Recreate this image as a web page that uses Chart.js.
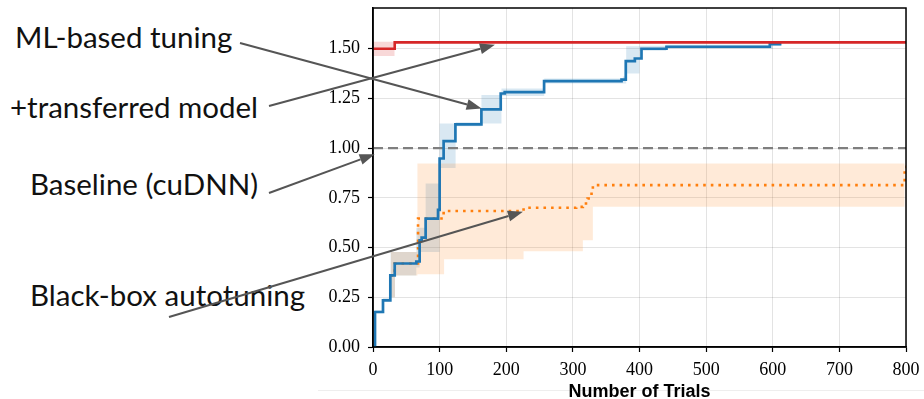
<!DOCTYPE html>
<html><head><meta charset="utf-8">
<script src="https://cdn.jsdelivr.net/npm/chart.js@4"></script>
<style>
html,body{margin:0;padding:0;background:#fff;}
#wrap{position:relative;width:924px;height:399px;overflow:hidden;background:#fff;}
#c{position:absolute;left:0;top:0;z-index:2;}
.ann{position:absolute;font-family:Lato,'Noto Sans',sans-serif;font-size:29.5px;line-height:29.5px;color:#111;white-space:nowrap;z-index:1;}
#hr{position:absolute;left:318px;top:390px;width:606px;height:1px;background:#eee;z-index:0;}
</style></head><body>
<div id="wrap">
<div id="hr"></div>
<div class="ann" style="left:15px;top:22px">ML-based tuning</div>
<div class="ann" style="left:10px;top:92px">+transferred model</div>
<div class="ann" style="left:30px;top:169px">Baseline (cuDNN)</div>
<div class="ann" style="left:30px;top:280px">Black-box autotuning</div>
<canvas id="c" width="924" height="399"></canvas>
</div>
<script>
// ---- data ----
const xTicks = [0, 100, 200, 300, 400, 500, 600, 700, 800];
const yTicks = [0, 0.25, 0.5, 0.75, 1.0, 1.25, 1.5];

const baselineX = [0, 800];
const baselineY = [1.0, 1.0];

const redX = [0, 32.6, 800];
const redY = [1.50, 1.532, 1.532];
const redBandX = [0, 32.6];
const redBandHi = [1.535, 1.535];
const redBandLo = [1.463, 1.463];

const blueX = [2, 3, 15, 26, 32.6, 65, 70, 73, 79, 97.6, 100, 106, 123.7, 162.7, 191.7, 197.7, 256.8, 373, 379.4, 393, 403, 440.5, 595.6, 613];
const blueY = [0, 0.176, 0.235, 0.36, 0.42, 0.43, 0.537, 0.55, 0.646, 0.69, 0.948, 1.035, 1.12, 1.195, 1.275, 1.282, 1.337, 1.345, 1.438, 1.451, 1.50, 1.51, 1.523, 1.523];
const blueBandX  = [3, 15, 26.5, 33, 65, 70, 79, 100, 124, 162.7, 192.8, 257, 375, 380, 400, 440, 600, 613];
const blueBandHi = [0.185, 0.245, 0.478, 0.478, 0.60, 0.60, 0.822, 1.124, 1.13, 1.267, 1.30, 1.35, 1.36, 1.513, 1.515, 1.52, 1.53, 1.53];
const blueBandLo = [0.17, 0.23, 0.25, 0.36, 0.40, 0.478, 0.478, 0.90, 1.11, 1.124, 1.262, 1.325, 1.325, 1.376, 1.49, 1.50, 1.515, 1.515];

const orangeX = [26.5, 32.6, 67.6, 106, 226, 305, 315, 322, 328, 330, 798, 800];
const orangeY = [0.36, 0.42, 0.646, 0.684, 0.70, 0.705, 0.722, 0.747, 0.789, 0.814, 0.906, 0.906];
const orangeBandX  = [26.5, 33, 66.7, 106.7, 226, 315, 330, 798];
const orangeBandHi = [0.478, 0.478, 0.923, 0.923, 0.923, 0.923, 0.923, 0.923];
const orangeBandLo = [0.25, 0.36, 0.366, 0.441, 0.482, 0.537, 0.705, 0.705];

// annotation arrows: start in page pixels (next to the labels), tip in data coordinates
const arrows = [
  {from: [240, 43],  to: [163, 1.20]},
  {from: [269, 106], to: [183, 1.52]},
  {from: [269, 193], to: [2.5, 0.97]},
  {from: [169, 317], to: [225, 0.68]}
];

// ---- helpers ----
const pts = (xs, ys) => xs.map((x, i) => ({x: x, y: ys[i]}));
const BLUE = '#1f77b4', ORANGE = '#ff7f0e', RED = '#d62728';
const bandFill = {
  blue: 'rgba(31,119,180,0.17)',
  orange: 'rgba(255,127,14,0.16)',
  red: 'rgba(214,39,40,0.18)'
};
const STEP = 'before'; // horizontal first, then vertical (matplotlib "post")

function band(xs, hi, lo, color, ord) {
  return [
    {data: pts(xs, hi), stepped: STEP, borderWidth: 0, pointRadius: 0, backgroundColor: color, fill: '+1', order: ord},
    {data: pts(xs, lo), stepped: STEP, borderWidth: 0, pointRadius: 0, backgroundColor: color, fill: false, order: ord}
  ];
}

const datasets = [
  ...band(redBandX, redBandHi, redBandLo, bandFill.red, 10),
  ...band(orangeBandX, orangeBandHi, orangeBandLo, bandFill.orange, 11),
  ...band(blueBandX, blueBandHi, blueBandLo, bandFill.blue, 12),
  {data: pts(baselineX, baselineY), borderColor: '#7f7f7f', borderWidth: 2.4, borderDash: [10, 5], pointRadius: 0, fill: false, order: 4},
  {data: pts(orangeX, orangeY), stepped: STEP, borderColor: ORANGE, borderWidth: 2.6, borderDash: [2.6, 5], borderCapStyle: 'butt', pointRadius: 0, fill: false, order: 3},
  {data: pts(blueX, blueY), stepped: STEP, borderColor: BLUE, borderWidth: 2.7, pointRadius: 0, fill: false, order: 2},
  {data: pts(redX, redY), stepped: STEP, borderColor: RED, borderWidth: 2.6, pointRadius: 0, fill: false, order: 1}
];

const framePlugin = {
  id: 'frame',
  afterDatasetsDraw(chart) {
    const {ctx, chartArea: a} = chart;
    ctx.save();
    ctx.strokeStyle = '#000';
    ctx.lineWidth = 1.5;
    ctx.strokeRect(a.left, a.top, a.right - a.left, a.bottom - a.top);
    ctx.restore();
  }
};

const arrowPlugin = {
  id: 'arrows',
  afterDraw(chart) {
    const {ctx, scales} = chart;
    ctx.save();
    ctx.strokeStyle = '#555';
    ctx.fillStyle = '#555';
    ctx.lineWidth = 2;
    arrows.forEach(a => {
      const x0 = a.from[0], y0 = a.from[1];
      const x1 = scales.x.getPixelForValue(a.to[0]);
      const y1 = scales.y.getPixelForValue(a.to[1]);
      const dx = x1 - x0, dy = y1 - y0, L = Math.hypot(dx, dy);
      const ux = dx / L, uy = dy / L;
      const hl = 15, hw = 5.5;
      const bx = x1 - ux * hl, by = y1 - uy * hl;
      ctx.beginPath();
      ctx.moveTo(x0, y0);
      ctx.lineTo(bx, by);
      ctx.stroke();
      ctx.beginPath();
      ctx.moveTo(x1, y1);
      ctx.lineTo(bx - uy * hw, by + ux * hw);
      ctx.lineTo(bx + uy * hw, by - ux * hw);
      ctx.closePath();
      ctx.fill();
    });
    ctx.restore();
  }
};

const gridCommon = {
  color: 'rgba(0,0,0,0.14)',
  lineWidth: 0.8,
  borderDash: [1.2, 1.6],
  drawTicks: true,
  tickLength: 5,
  tickColor: '#000',
  tickWidth: 1.2,
  tickBorderDash: []
};
const tickFont = {family: "'Liberation Serif', 'DejaVu Serif', serif", size: 18};

new Chart(document.getElementById('c'), {
  type: 'line',
  data: {datasets: datasets},
  options: {
    responsive: false,
    animation: false,
    devicePixelRatio: 1,
    layout: {padding: {left: 0, right: 18, top: 8, bottom: 0}},
    plugins: {
      legend: {display: false},
      tooltip: {enabled: false},
      filler: {drawTime: 'beforeDatasetsDraw', propagate: false}
    },
    scales: {
      x: {
        type: 'linear',
        min: 0, max: 800,
        afterBuildTicks: s => { s.ticks = xTicks.map(v => ({value: v})); },
        afterFit: s => { s.height = 52; s.paddingLeft = 0; s.paddingRight = 0; },
        grid: gridCommon,
        border: {display: true, color: '#000', width: 1.5},
        ticks: {font: tickFont, color: '#000', padding: 7, maxRotation: 0, autoSkip: false, callback: v => String(v)},
        title: {display: true, text: 'Number of Trials', color: '#000', padding: {top: 0, bottom: -4},
                font: {family: "'Liberation Sans', Arial, sans-serif", size: 18, weight: 'bold'}}
      },
      y: {
        type: 'linear',
        min: 0, max: 1.705,
        afterBuildTicks: s => { s.ticks = yTicks.map(v => ({value: v})); },
        afterFit: s => { s.width = 373; s.paddingTop = 0; s.paddingBottom = 0; },
        grid: gridCommon,
        border: {display: true, color: '#000', width: 1.5},
        ticks: {font: tickFont, color: '#000', padding: 8, autoSkip: false, callback: v => Number(v).toFixed(2)}
      }
    }
  },
  plugins: [framePlugin, arrowPlugin]
});
</script>
</body></html>
